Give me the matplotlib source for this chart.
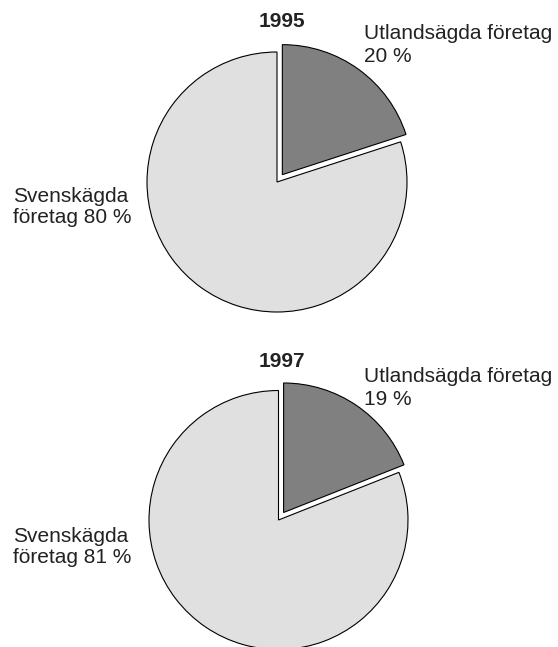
import matplotlib.pyplot as plt

plt.rcParams['font.family'] = ['Liberation Sans', 'DejaVu Sans']

W, H = 558, 647

years = ['1995', '1997']
utland = [20, 19]
svensk = [80, 81]
colors = ['#808080', '#e0e0e0']

# pie centre (px), radius (px)
centers = [(277, 182), (278.5, 520)]
radii = [130, 129.5]

fig = plt.figure(figsize=(W / 100, H / 100), dpi=100)

for i in range(2):
    cx, cy = centers[i]
    r = radii[i]
    half = 1.1 * r
    ax = fig.add_axes([(cx - half) / W, (H - cy - half) / H, 2 * half / W, 2 * half / H])
    ax.pie([utland[i], svensk[i]], colors=colors, startangle=90, counterclock=False,
           explode=[0.07, 0], radius=1,
           wedgeprops=dict(edgecolor='black', linewidth=0.8))
    ax.set_xlim(-1.1, 1.1)
    ax.set_ylim(-1.1, 1.1)
    ax.set_aspect('equal')
    ax.axis('off')

def px_text(x, y, s, **kw):
    fig.text(x / W, 1 - y / H, s, fontsize=15, color='#222222', **kw)

# titles
px_text(282, 27, years[0], ha='center', va='baseline', fontweight='bold')
px_text(282, 367, years[1], ha='center', va='baseline', fontweight='bold')

# labels
offs = [0, 343]
for i in range(2):
    o = offs[i]
    px_text(364, 39 + o, 'Utlandsägda företag', ha='left', va='baseline')
    px_text(364, 62 + o, f'{utland[i]} %', ha='left', va='baseline')
    so = [0, 340][i]
    px_text(13, 202 + so, 'Svenskägda', ha='left', va='baseline')
    px_text(13, 223 + so, f'företag {svensk[i]} %', ha='left', va='baseline')

fig.savefig('out.png', dpi=100)
